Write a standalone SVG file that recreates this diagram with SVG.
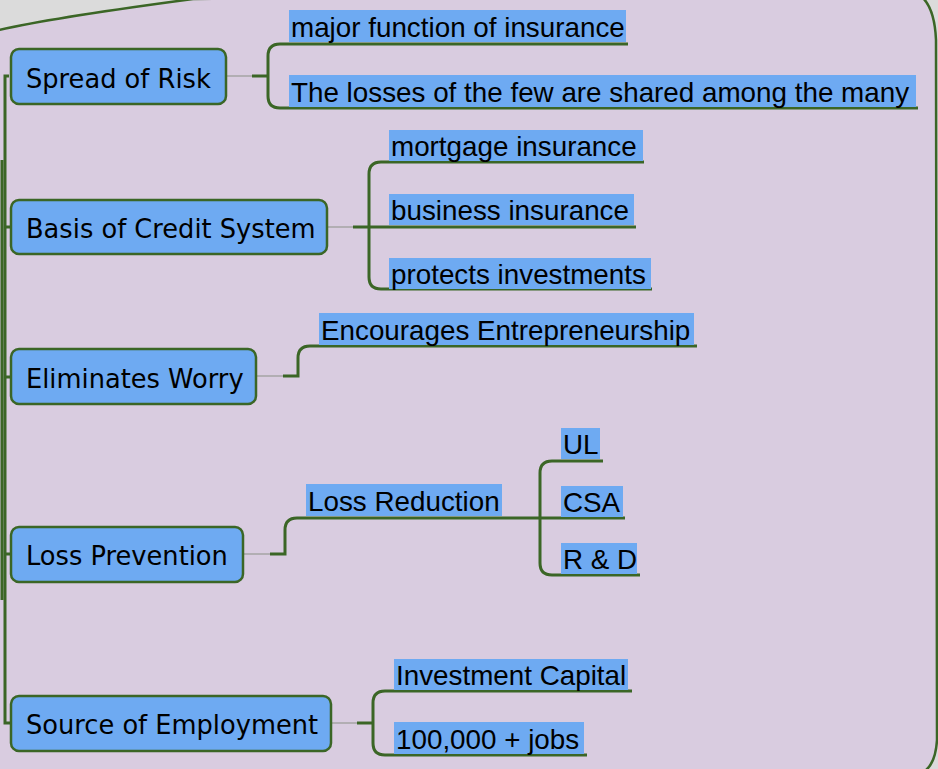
<svg xmlns="http://www.w3.org/2000/svg" width="938" height="769" viewBox="0 0 938 769">
<style>
.node rect{fill:#6eaaf2;stroke:#3b6626;stroke-width:2.5}
.node text{font-family:"DejaVu Sans",sans-serif;font-size:25.7px;fill:#000}
.lbl rect{fill:#6eaaf2}
.lbl text{font-family:"Liberation Sans",Arial,sans-serif;font-size:27.8px;fill:#000}
.con path{fill:none;stroke:#3b6626;stroke-width:3}
.con path.thin{stroke:#a5a5a5;stroke-width:1.5}
</style>
<rect x="0" y="0" width="938" height="769" fill="#dbdbdb"/>
<path d="M-5,31 C40,20 110,10 193,-1 L905,-10 Q934,-8 936,40 L937,740 Q935,772 915,775 L-5,775 Z" fill="#d9cce0" stroke="#3b6626" stroke-width="2.5"/>
<g class="con">
<path d="M9,76 H5 V723 H11"/>
<path d="M2,160 V600" stroke-width="2"/>
<path d="M5,227 H11 M5,377 H11 M5,554 H11"/>
<path class="thin" d="M226,76 H252"/>
<path d="M252,76 H268"/>
<path d="M628,44 H280 Q268,44 268,56 V96 Q268,108 280,108 H918"/>
<path class="thin" d="M327,227 H353"/>
<path d="M644,162 H381 Q369,162 369,174 V277 Q369,289 381,289 H652"/>
<path d="M353,227 H636"/>
<path class="thin" d="M256,376 H283"/>
<path d="M283,376 H298 V358 Q298,346 310,346 H697"/>
<path class="thin" d="M243,554 H270"/>
<path d="M270,554 H285 V530 Q285,518 297,518 H625"/>
<path d="M603,461 H552 Q540,461 540,473 V563 Q540,575 552,575 H640"/>
<path class="thin" d="M331,723 H357"/>
<path d="M357,723 H373"/>
<path d="M632,691 H385 Q373,691 373,703 V743 Q373,755 385,755 H587"/>
</g>
<g id="n-spread" class="node"><rect x="11" y="49" width="215" height="55" rx="8"/><text x="26" y="88">Spread of Risk</text></g>
<g id="n-credit" class="node"><rect x="11" y="200" width="316" height="54" rx="8"/><text x="26" y="238">Basis of Credit System</text></g>
<g id="n-worry" class="node"><rect x="11" y="349" width="245" height="55" rx="8"/><text x="26" y="388">Eliminates Worry</text></g>
<g id="n-prevention" class="node"><rect x="11" y="527" width="232" height="55" rx="8"/><text x="26" y="565">Loss Prevention</text></g>
<g id="n-employment" class="node"><rect x="11" y="696" width="320" height="55" rx="8"/><text x="26" y="734">Source of Employment</text></g>
<g id="l-major" class="lbl"><rect x="289" y="10" width="337" height="32"/><text x="291" y="37">major function of insurance</text></g>
<g id="l-losses" class="lbl"><rect x="289" y="75" width="627" height="32"/><text x="291" y="102">The losses of the few are shared among the many</text></g>
<g id="l-mortgage" class="lbl"><rect x="389" y="130" width="254" height="31"/><text x="391" y="156">mortgage insurance</text></g>
<g id="l-business" class="lbl"><rect x="389" y="194" width="245" height="31"/><text x="391" y="220">business insurance</text></g>
<g id="l-protects" class="lbl"><rect x="389" y="258" width="262" height="31"/><text x="391" y="284">protects investments</text></g>
<g id="l-entre" class="lbl"><rect x="319" y="313" width="375" height="32"/><text x="321" y="340">Encourages Entrepreneurship</text></g>
<g id="l-reduction" class="lbl"><rect x="306" y="484" width="196" height="32"/><text x="308" y="511">Loss Reduction</text></g>
<g id="l-ul" class="lbl"><rect x="561" y="428" width="39" height="31"/><text x="563" y="454">UL</text></g>
<g id="l-csa" class="lbl"><rect x="561" y="486" width="62" height="31"/><text x="563" y="512">CSA</text></g>
<g id="l-rd" class="lbl"><rect x="561" y="543" width="76" height="31"/><text x="563" y="569">R &amp; D</text></g>
<g id="l-capital" class="lbl"><rect x="394" y="659" width="234" height="31"/><text x="396" y="685">Investment Capital</text></g>
<g id="l-jobs" class="lbl"><rect x="394" y="722" width="190" height="32"/><text x="396" y="749">100,000 + jobs</text></g>
</svg>
